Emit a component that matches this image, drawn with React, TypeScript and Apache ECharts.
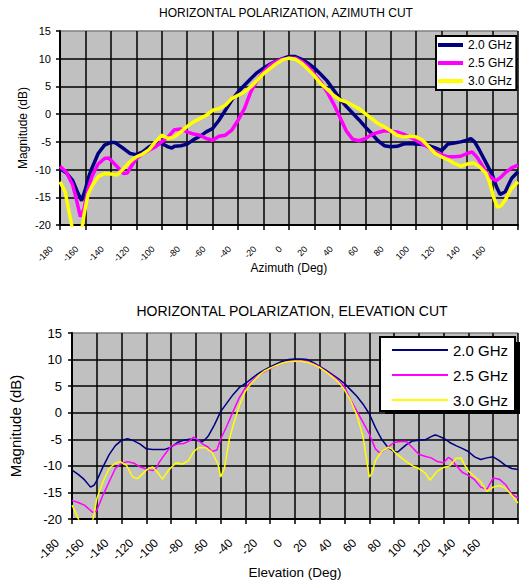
import React, { useEffect, useRef } from "react";
import * as echarts from "echarts";

const azTitle = "HORIZONTAL POLARIZATION, AZIMUTH CUT";
const elTitle = "HORIZONTAL POLARIZATION, ELEVATION CUT";
const azXName = "Azimuth (Deg)";
const elXName = "Elevation (Deg)";
const yName = "Magnitude (dB)";
const azLegend = ["2.0 GHz", "2.5 GHZ", "3.0 GHz"];
const elLegend = ["2.0 GHz", "2.5 GHz", "3.0 GHz"];
const colors = ["#000080", "#FF00FF", "#FFFF00"];

// Azimuth cut [deg, dB]
const az20: [number, number][] = [
  [-180, -9.8], [-175, -10.6], [-170, -12], [-166, -14.2], [-163, -15.6], [-160, -13.5], [-157, -11], [-155, -9.8],
  [-150, -7.1], [-145, -5.6], [-140, -5.1], [-137, -5.1], [-135, -5.4], [-130, -6.2], [-125, -7.1], [-120, -7.3],
  [-115, -6.8], [-110, -5.9], [-105, -5.3], [-100, -5.3], [-95, -5.9], [-92, -6.1], [-90, -5.8], [-85, -5.7],
  [-80, -5.4], [-75, -4.6], [-70, -4], [-65, -3.2], [-60, -2.6], [-55, -1.1], [-50, 0.7], [-45, 2.5], [-40, 4],
  [-35, 5.2], [-30, 6.4], [-25, 7.5], [-20, 8.3], [-15, 9], [-10, 9.6], [-5, 10], [0, 10.4], [5, 10.4], [10, 9.9],
  [15, 9.2], [20, 8.3], [25, 7.2], [30, 6], [35, 4.4], [40, 2.8], [45, 1.4], [50, 0.2], [55, -1], [60, -2.3],
  [65, -3.5], [70, -4.8], [75, -5.7], [80, -5.9], [85, -5.8], [90, -5.4], [95, -5.3], [100, -5.4], [105, -5.5],
  [110, -5.7], [115, -6.1], [120, -6.6], [125, -5.4], [130, -5.2], [135, -5], [140, -4.7], [143, -4.4], [146, -5],
  [150, -6.6], [155, -8.8], [160, -11], [163, -13], [166, -14.5], [170, -14], [175, -11.6], [180, -10.4],
];
const az25: [number, number][] = [
  [-180, -9.4], [-175, -10.5], [-170, -12.8], [-167, -15.5], [-164, -18.5], [-161, -17], [-158, -13.5], [-155, -11.3],
  [-150, -9], [-145, -8], [-142, -7.9], [-140, -8.3], [-135, -9.5], [-130, -10.7], [-127, -10.6], [-125, -9.8],
  [-120, -8], [-115, -7.2], [-110, -6.5], [-105, -5.9], [-100, -5], [-95, -4.1], [-90, -2.8], [-85, -2.7],
  [-80, -3.2], [-75, -3.6], [-70, -3.8], [-65, -4.4], [-60, -4.7], [-55, -4], [-50, -3.8], [-45, -2.9], [-40, -1.1],
  [-35, 1], [-30, 4], [-25, 6.1], [-20, 7.6], [-15, 8.8], [-10, 9.5], [-5, 9.9], [0, 10.1], [5, 10.1], [10, 9.5],
  [15, 8.6], [20, 7.2], [25, 5.8], [30, 4], [35, 1.9], [40, -0.5], [45, -3], [50, -4.5], [55, -4.8], [60, -4.4],
  [65, -3.7], [70, -3.3], [75, -3], [80, -3.1], [85, -3.2], [90, -3.6], [95, -4.1], [100, -4.7], [105, -5.4],
  [110, -6], [115, -6.8], [120, -7.3], [125, -7.7], [130, -7.7], [135, -7.6], [140, -7.1], [144, -6.8], [148, -7.8],
  [152, -9.3], [156, -10.8], [160, -11.6], [163, -12], [167, -11.3], [170, -10.6], [175, -9.7], [180, -9.2],
];
const az30: [number, number][] = [
  [-180, -12.2], [-176, -14], [-173, -17.5], [-170, -21], [-166, -23], [-163, -21], [-161, -18], [-158, -14.5],
  [-155, -13], [-150, -11.3], [-145, -10.7], [-140, -10.8], [-135, -11], [-130, -9.8], [-125, -8.6], [-120, -7.7],
  [-115, -7.2], [-110, -6.4], [-105, -5], [-100, -3.8], [-95, -4.4], [-90, -4.1], [-85, -3.2], [-80, -2.2],
  [-75, -1.4], [-70, -0.8], [-65, -0.2], [-60, 0.7], [-55, 1], [-50, 1.6], [-45, 2.8], [-40, 3.4], [-35, 4],
  [-30, 4.9], [-25, 6.1], [-20, 7.3], [-15, 8.2], [-10, 9.1], [-5, 9.8], [0, 10.1], [5, 9.9], [10, 9.2], [15, 8.1],
  [20, 6.9], [25, 5.5], [30, 4.5], [35, 3.4], [40, 2.6], [45, 2.2], [50, 1.6], [55, 1], [60, 0.1], [65, -0.8],
  [70, -1.7], [75, -2.3], [80, -3], [85, -3.8], [90, -4.1], [95, -4], [100, -4.1], [105, -4.7], [110, -5.9],
  [115, -7.1], [120, -7.7], [125, -8.2], [130, -8.9], [135, -9.4], [140, -9], [145, -8.8], [150, -9.5],
  [155, -10.7], [158, -12.5], [161, -15], [164, -16.8], [167, -16.5], [170, -15.5], [175, -13.4], [180, -12.2],
];

// Elevation cut [deg, dB]
const el20: [number, number][] = [
  [-180, -10.8], [-175, -11.6], [-170, -12.6], [-165, -14], [-162, -13.6], [-160, -12.8], [-155, -10.2],
  [-150, -7.9], [-145, -6.2], [-140, -5.2], [-135, -4.9], [-130, -5.3], [-125, -5.9], [-120, -6.8], [-115, -6.9],
  [-110, -6.9], [-105, -6.9], [-100, -6.5], [-95, -5.6], [-90, -5.2], [-85, -5], [-80, -5.1], [-75, -5.5],
  [-72, -4.9], [-70, -4.4], [-65, -2.3], [-60, 0.2], [-55, 1.8], [-50, 3.4], [-45, 4.7], [-40, 5.5], [-35, 6.4],
  [-30, 7.3], [-25, 8], [-20, 8.6], [-15, 9.2], [-10, 9.7], [-5, 10], [0, 10.1], [5, 10.1], [10, 10], [15, 9.4],
  [20, 8.7], [25, 8], [30, 7.2], [35, 6.4], [40, 5.5], [45, 4.3], [50, 3.1], [55, 1.6], [60, -0.2], [65, -2.8],
  [70, -5], [75, -6.5], [80, -7.3], [83, -7.4], [85, -7], [90, -6], [95, -5.3], [100, -5.2], [105, -5.1],
  [110, -4.5], [113, -4.2], [115, -4.3], [120, -4.8], [125, -5.6], [130, -6.2], [135, -6.7], [140, -7.3],
  [145, -8.3], [150, -8.8], [155, -8.5], [160, -8.3], [165, -9], [170, -9.9], [175, -10.5], [180, -10.7],
];
const el25: [number, number][] = [
  [-180, -16.5], [-175, -16.9], [-170, -17.4], [-165, -18.4], [-163, -18.8], [-160, -18.4], [-155, -15.5],
  [-150, -13], [-145, -10.5], [-140, -9.5], [-135, -9.2], [-130, -9.5], [-125, -10.2], [-120, -10.6],
  [-115, -10.9], [-112, -10.5], [-110, -9.5], [-105, -7.8], [-100, -6.3], [-95, -5.9], [-90, -5.8], [-85, -5.3],
  [-82, -4.6], [-80, -4.8], [-75, -5.8], [-70, -6.5], [-67, -7.3], [-63, -7], [-60, -5], [-55, -2.5], [-50, 0.2],
  [-45, 2.8], [-40, 4.7], [-35, 5.9], [-30, 6.9], [-25, 7.7], [-20, 8.3], [-15, 8.9], [-10, 9.3], [-5, 9.6],
  [0, 9.8], [5, 9.8], [10, 9.6], [15, 9.2], [20, 8.6], [25, 7.8], [30, 7], [35, 6.1], [40, 4.9], [45, 2.4],
  [50, 0.3], [55, -1.8], [60, -4], [65, -6.8], [68, -7.5], [70, -7.4], [75, -6.5], [80, -5.6], [85, -5.4],
  [90, -5.4], [95, -6.6], [100, -7.8], [105, -8.2], [110, -8.5], [115, -9.2], [120, -9.4], [124, -8.4],
  [127, -8.9], [130, -9.9], [135, -11.2], [140, -11.8], [145, -12.6], [150, -14], [155, -14.4], [160, -12.3],
  [165, -12.5], [170, -13.5], [175, -15.3], [180, -16],
];
const el30: [number, number][] = [
  [-180, -17.4], [-177, -18.8], [-174, -20.5], [-170, -21.5], [-165, -21], [-163, -20], [-160, -16.2],
  [-155, -13], [-150, -10.5], [-145, -9.5], [-141, -9.2], [-136, -9.9], [-131, -12.1], [-127, -12.4],
  [-120, -10.8], [-115, -10.2], [-111, -11.2], [-107, -12.5], [-102, -10.8], [-96, -9.4], [-91, -9.7],
  [-86, -9], [-82, -7.4], [-78, -6.6], [-72, -6.6], [-67, -7.4], [-62, -9.8], [-60, -12.1], [-57, -10.5],
  [-53, -5], [-50, -2.5], [-45, 1.3], [-40, 4.1], [-35, 5.6], [-30, 6.8], [-25, 7.8], [-20, 8.4], [-15, 8.9],
  [-10, 9.3], [-5, 9.6], [0, 9.7], [5, 9.7], [10, 9.5], [15, 9.1], [20, 8.5], [25, 7.7], [30, 6.8], [35, 5.8],
  [40, 4.3], [45, 2.3], [50, -0.5], [55, -4.5], [58, -9], [60, -12.1], [62, -11.5], [65, -9], [70, -7.3],
  [75, -6.5], [78, -6.8], [80, -7.3], [85, -8.3], [90, -9.2], [95, -10], [100, -10.5], [105, -11.3],
  [109, -12.7], [112, -11.8], [115, -11], [120, -10.3], [125, -10], [130, -8.6], [134, -8.5], [137, -9.8],
  [140, -11], [145, -12], [150, -13], [155, -14.8], [160, -14], [165, -13.7], [170, -14.2], [175, -15.5],
  [180, -17],
];

const FONT = "Liberation Sans";

export default function App() {
  const ref = useRef<HTMLDivElement>(null);
  useEffect(() => {
    const chart = echarts.init(ref.current!, null, { renderer: "svg" });
    const splitColors = ["#000", "#000", "#000", "#000", "#000", "#000", "#000", "#808080"];
    const labelNames: Record<string, string> = {
      az20: azLegend[0], az25: azLegend[1], az30: azLegend[2],
      el20: elLegend[0], el25: elLegend[1], el30: elLegend[2],
    };
    const mkX = (gi: number, fs: number, margin: number, shift: number, name: string, nfs: number, gap: number) => ({
      type: "value", gridIndex: gi, min: -180, max: 180, interval: 20,
      axisLine: { show: true, onZero: false, lineStyle: { color: "#000", width: 2 } },
      axisTick: { show: true, length: 5, lineStyle: { color: "#000", width: 1.5 } },
      splitLine: { show: true, lineStyle: { color: "#000", width: 1.5 } },
      axisLabel: {
        rotate: 45, margin,
        formatter: (v: number) => (v === 180 ? "" : `{t|${v}}`),
        rich: { t: { fontSize: fs, fontFamily: FONT, color: "#000", padding: [0, shift, 0, 0] } },
      },
      name, nameLocation: "middle", nameGap: gap, nameMoveOverlap: false,
      nameTextStyle: { fontSize: nfs, fontFamily: FONT, color: "#000" },
    });
    const mkY = (gi: number, fs: number, margin: number, nfs: number, gap: number) => ({
      type: "value", gridIndex: gi, min: -20, max: 15, interval: 5,
      axisLine: { show: true, onZero: false, lineStyle: { color: "#000", width: 2 } },
      axisTick: { show: true, length: 4, lineStyle: { color: "#000", width: 1.5 } },
      splitLine: { show: true, lineStyle: { color: splitColors, width: 1.5 } },
      axisLabel: { fontSize: fs, fontFamily: FONT, color: "#000", margin },
      name: yName, nameLocation: "middle", nameGap: gap, nameMoveOverlap: false,
      nameTextStyle: { fontSize: nfs, fontFamily: FONT, color: "#000" },
    });
    const mkS = (name: string, data: [number, number][], idx: number, color: string, w: number) => ({
      type: "line", name, data, xAxisIndex: idx, yAxisIndex: idx, symbol: "none", showSymbol: false,
      clip: true, lineStyle: { color, width: w }, itemStyle: { color }, z: 3,
    });
    chart.setOption({
      animation: false,
      grid: [
        { left: 60, top: 31, width: 461, height: 194, show: true, backgroundColor: "#C0C0C0", borderWidth: 0 },
        { left: 70, top: 333, width: 452, height: 186, show: true, backgroundColor: "#C0C0C0", borderWidth: 0 },
      ],
      xAxis: [
        mkX(0, 9, 14, 12, azXName, 12, 37),
        mkX(1, 12, 7, 21, elXName, 13.5, 46),
      ],
      yAxis: [mkY(0, 11, 9, 12, 31), mkY(1, 13, 10, 15, 49)],
      legend: [
        {
          data: ["az20", "az25", "az30"], formatter: (n: string) => labelNames[n],
          orient: "vertical", left: 436, top: 36, padding: [2, 3, 2, 2], itemGap: 4,
          itemWidth: 25, itemHeight: 4, icon: "rect", selectedMode: false,
          backgroundColor: "#fff", borderColor: "#000", borderWidth: 2, borderRadius: 0,
          textStyle: { fontSize: 12, fontFamily: FONT, color: "#000", lineHeight: 14 }, z: 10,
        },
        {
          data: ["el20", "el25", "el30"], formatter: (n: string) => labelNames[n],
          orient: "vertical", left: 380, top: 337, padding: [4, 7, 2, 12], itemGap: 7,
          itemWidth: 56, itemHeight: 2, icon: "rect", selectedMode: false,
          backgroundColor: "#fff", borderColor: "#000", borderWidth: 2, borderRadius: 0,
          textStyle: { fontSize: 15, fontFamily: FONT, color: "#000", lineHeight: 18 }, z: 10,
        },
      ],
      graphic: [
        {
          type: "text", x: 286, y: 13, z: 10,
          style: { text: azTitle, font: `12px "${FONT}"`, fill: "#000", align: "center", verticalAlign: "middle" },
        },
        {
          type: "text", x: 292, y: 311, z: 10,
          style: { text: elTitle, font: `14px "${FONT}"`, fill: "#000", align: "center", verticalAlign: "middle" },
        },
        { type: "rect", z: 9, shape: { x: 385, y: 342, width: 135, height: 72 }, style: { fill: "#000" } },
      ],
      series: [
        mkS("az20", az20, 0, colors[0], 3.5),
        mkS("az25", az25, 0, colors[1], 3.5),
        mkS("az30", az30, 0, colors[2], 3.5),
        mkS("el20", el20, 1, colors[0], 1.5),
        mkS("el25", el25, 1, colors[1], 1.5),
        mkS("el30", el30, 1, colors[2], 1.5),
      ],
    });
    return () => chart.dispose();
  }, []);
  return (
    <div
      ref={ref}
      style={{ position: "absolute", left: 0, top: 0, width: 520, height: 583, background: "#fff" }}
    />
  );
}
